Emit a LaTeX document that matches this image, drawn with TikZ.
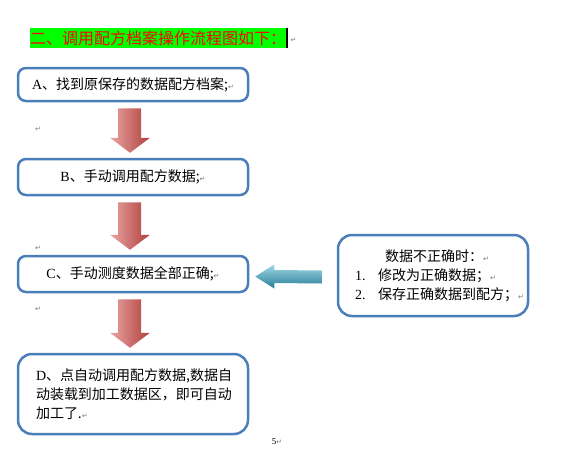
\documentclass[tikz,border=0pt]{standalone}
\usepackage{fontspec}
\setmainfont{Liberation Serif}
\newfontfamily\cjk{Noto Sans CJK SC}
\newfontfamily\symf{DejaVu Sans}
\usetikzlibrary{calc}
\definecolor{boxblue}{RGB}{74,126,187}
\definecolor{arrred}{RGB}{192,80,77}
\definecolor{arrpink}{RGB}{234,165,162}
\definecolor{arrdark}{RGB}{175,62,60}
\definecolor{arraqua}{RGB}{75,172,198}
\definecolor{arrlight}{RGB}{160,215,230}
\definecolor{arrdeep}{RGB}{40,125,150}
\definecolor{markgray}{RGB}{120,120,120}
\definecolor{hlgreen}{RGB}{0,255,0}
\newcommand{\pmark}{{\symf\fontsize{7}{7}\selectfont\textcolor{markgray}{↵}}}

\begin{document}
\begin{tikzpicture}[x=1pt,y=-1pt,
  stepbox/.style={draw=boxblue,line width=2.5pt,rounded corners=8pt,fill=white,
    minimum width=230pt,minimum height=33pt,font=\fontsize{14}{19}\selectfont},
  notebox/.style={stepbox,rounded corners=14pt},
  redarr/.style={left color=arrpink,middle color=arrred,right color=arrdark},
  bluearr/.style={top color=arrlight,middle color=arraqua,bottom color=arrdeep},
  parmark/.style={inner sep=0pt}]
  \useasboundingbox (0,0) rectangle (574,448);
  % title line
  \node[fill=hlgreen,inner sep=0pt,minimum height=20pt,anchor=west,text=red,
    font=\cjk\fontsize{16}{16}\selectfont] (title) at (30,38) {二、调用配方档案操作流程图如下：};
  \fill (title.north east) rectangle ($(title.south east)+(2,0)$);
  \node[parmark,anchor=west] (tm) at ($(title.east)+(4,2)$) {\pmark};
  % steps
  \node[stepbox] (A) at (133,84.5) {A{\cjk 、找到原保存的数据配方档案;}\pmark};
  \node[stepbox,minimum height=36pt] (B) at (133,177) {B{\cjk 、手动调用配方数据;}\pmark};
  \node[stepbox,minimum height=36pt] (C) at (133,274) {C{\cjk 、手动测度数据全部正确;}\pmark};
  \node[stepbox,rounded corners=14pt,minimum height=80pt,text width=194pt,inner xsep=18pt,align=left] (D) at (133,394)
    {D{\cjk 、点自动调用配方数据,数据自}\\{\cjk 动装载到加工数据区，即可自动}\\{\cjk 加工了.}\pmark};
  \node[notebox,minimum width=188pt,minimum height=81pt,text width=156pt,inner xsep=17pt,align=left] (R) at (433,275.5)
    {\makebox[\linewidth][c]{\cjk\hspace{8pt}数据不正确时：\pmark}\\
     \makebox[23pt][l]{1.}{\cjk 修改为正确数据；}\pmark\\
     \makebox[23pt][l]{2.}{\cjk 保存正确数据到配方；}\pmark};
  % empty paragraph marks
  \node[parmark] (m1) at (38,129) {\pmark};
  \node[parmark] (m2) at (38,248) {\pmark};
  \node[parmark] (m3) at (38,309) {\pmark};
  \node[parmark,font=\fontsize{9}{9}\selectfont] (pg) at (277,442) {5\pmark};
  % block arrows
  \foreach \u/\v in {A/B,B/C,C/D}
    \shade[redarr] ($(\u.south)+(-15,6)$) -- ($(\u.south)+(8,6)$) -- ($(\v.north)+(8,-20)$)
      -- ($(\v.north)+(17,-20)$) -- ($(\v.north)+(-3,-5)$) -- ($(\v.north)+(-23,-20)$)
      -- ($(\v.north)+(-15,-20)$) -- cycle;
  \shade[bluearr] ($(R.west)+(-15,-5)$) -- ($(C.east)+(25,-4)$) -- ($(C.east)+(25,-9.5)$)
    -- ($(C.east)+(6,2.5)$) -- ($(C.east)+(25,14.5)$) -- ($(C.east)+(25,9)$)
    -- ($(R.west)+(-15,8)$) -- cycle;
\end{tikzpicture}
\end{document}
